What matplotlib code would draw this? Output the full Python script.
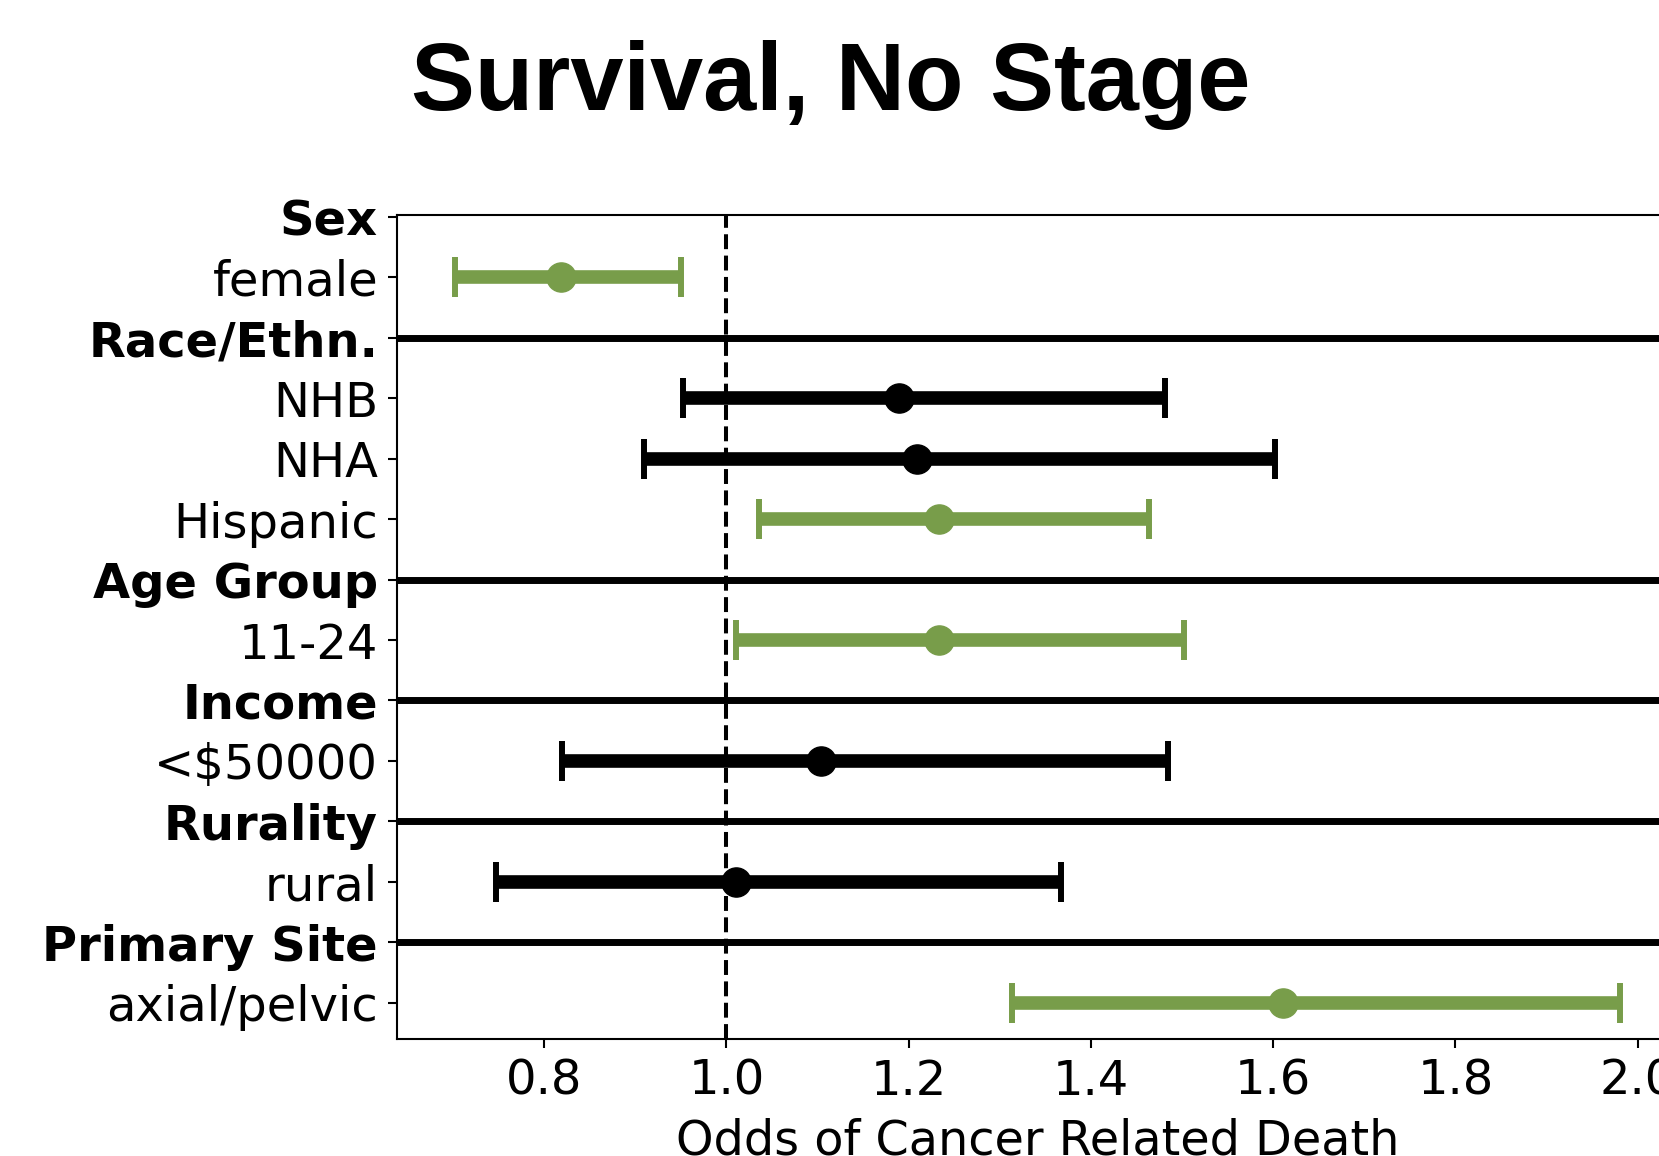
import matplotlib
matplotlib.use("Agg")
import matplotlib.pyplot as plt

# ---- data ----
row_labels = ['Sex', 'female', 'Race/Ethn.', 'NHB', 'NHA', 'Hispanic',
              'Age Group', '11-24', 'Income', '<$50000', 'Rurality', 'rural',
              'Primary Site', 'axial/pelvic']
header_labels = ['Sex', 'Race/Ethn.', 'Age Group', 'Income', 'Rurality', 'Primary Site']
factors = ['female', 'NHB', 'NHA', 'Hispanic', '11-24', '<$50000', 'rural', 'axial/pelvic']
odds = [0.818, 1.189, 1.209, 1.233, 1.233, 1.104, 1.011, 1.611]
ci_low = [0.702, 0.952, 0.910, 1.036, 1.011, 0.819, 0.747, 1.313]
ci_high = [0.950, 1.481, 1.602, 1.464, 1.502, 1.485, 1.367, 1.980]
xticks = [0.8, 1.0, 1.2, 1.4, 1.6, 1.8, 2.0]
title = 'Survival, No Stage'
xlabel = 'Odds of Cancer Related Death'

GREEN = '#789d4a'
BLACK = '#000000'

fig = plt.figure(figsize=(16.59, 11.56), dpi=100)
ax = fig.add_axes([0.2391, 0.1012, 0.7722, 0.7128])

ypos = {lab: i for i, lab in enumerate(row_labels)}

ax.axvline(1.0, color='black', ls='--', lw=2.9, zorder=1)

for h in header_labels[1:]:
    ax.axhline(ypos[h], color='black', lw=5, zorder=1)

for f, o, lo, hi in zip(factors, odds, ci_low, ci_high):
    sig = lo > 1.0 or hi < 1.0
    c = GREEN if sig else BLACK
    ax.errorbar([o], [ypos[f]], xerr=[[o - lo], [hi - o]], fmt='o', color=c,
                ecolor=c, elinewidth=9.8, capsize=14.4, capthick=4.3,
                markersize=21, zorder=3)

ax.set_ylim(len(row_labels) - 0.4, -0.03)
ax.set_yticks(range(len(row_labels)))
ax.set_yticklabels(row_labels, fontsize=34.6)
for t in ax.get_yticklabels():
    if t.get_text() in header_labels:
        t.set_fontweight('bold')

ax.set_xticks(xticks)
ax.set_xticklabels([f'{v:.1f}' for v in xticks], fontsize=34.6)
ax.set_xlabel(xlabel, fontsize=34.4, labelpad=9)

ax.tick_params(axis='both', length=6.7, width=1.5, pad=6.7)
for s in ax.spines.values():
    s.set_linewidth(1.5)

fig.text(0.5007, 0.9048, title, ha='center', va='baseline',
         fontsize=68.9, fontweight='bold', family='Liberation Sans')

fig.savefig('out.png', dpi=100)
